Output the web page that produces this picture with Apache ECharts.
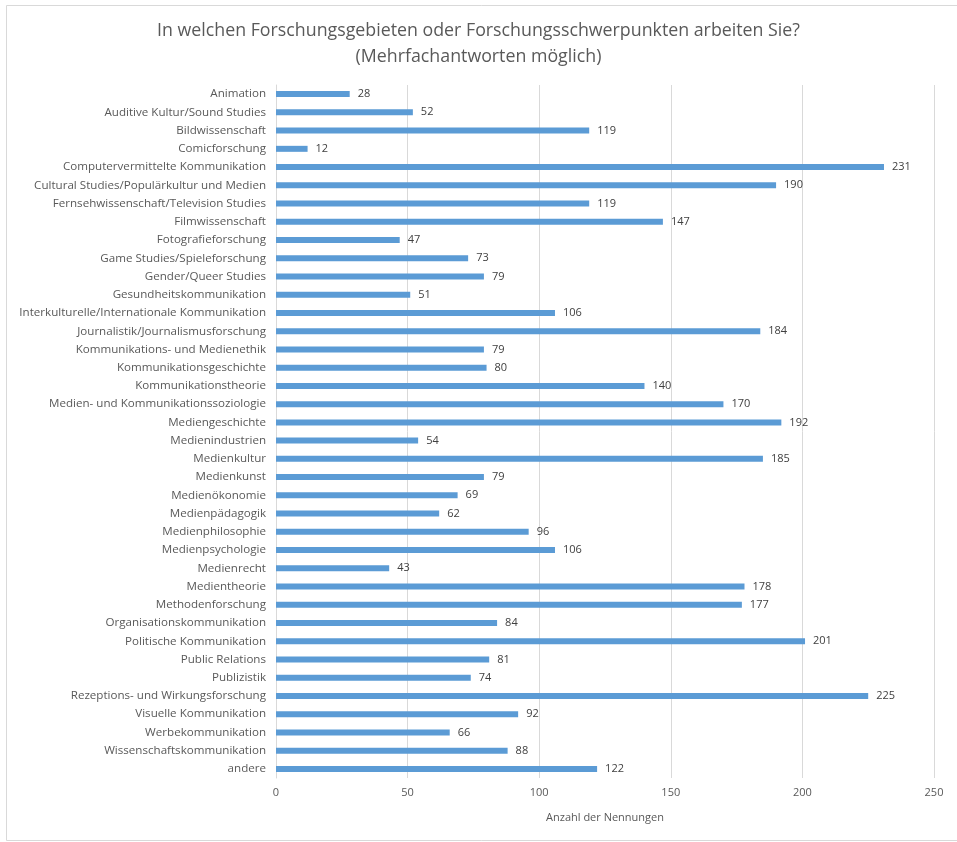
<!DOCTYPE html>
<html>
<head>
<meta charset="utf-8">
<script src="https://cdn.jsdelivr.net/npm/echarts@6/dist/echarts.min.js"></script>
<style>
  html, body { margin: 0; padding: 0; background: #fff; }
  #chart { width: 957px; height: 842px; }
</style>
</head>
<body>
<div id="chart"></div>
<script>
// Research areas, listed top to bottom
const categories = [
  'Animation',
  'Auditive Kultur/Sound Studies',
  'Bildwissenschaft',
  'Comicforschung',
  'Computervermittelte Kommunikation',
  'Cultural Studies/Populärkultur und Medien',
  'Fernsehwissenschaft/Television Studies',
  'Filmwissenschaft',
  'Fotografieforschung',
  'Game Studies/Spieleforschung',
  'Gender/Queer Studies',
  'Gesundheitskommunikation',
  'Interkulturelle/Internationale Kommunikation',
  'Journalistik/Journalismusforschung',
  'Kommunikations- und Medienethik',
  'Kommunikationsgeschichte',
  'Kommunikationstheorie',
  'Medien- und Kommunikationssoziologie',
  'Mediengeschichte',
  'Medienindustrien',
  'Medienkultur',
  'Medienkunst',
  'Medienökonomie',
  'Medienpädagogik',
  'Medienphilosophie',
  'Medienpsychologie',
  'Medienrecht',
  'Medientheorie',
  'Methodenforschung',
  'Organisationskommunikation',
  'Politische Kommunikation',
  'Public Relations',
  'Publizistik',
  'Rezeptions- und Wirkungsforschung',
  'Visuelle Kommunikation',
  'Werbekommunikation',
  'Wissenschaftskommunikation',
  'andere'
];

// Number of mentions per area
const mentions = [
  28, 52, 119, 12, 231, 190, 119, 147, 47, 73, 79, 51, 106, 184, 79, 80, 140,
  170, 192, 54, 185, 79, 69, 62, 96, 106, 43, 178, 177, 84, 201, 81, 74, 225,
  92, 66, 88, 122
];

const xTicks = { min: 0, max: 250, interval: 50 };

const titleText = 'In welchen Forschungsgebieten oder Forschungsschwerpunkten arbeiten Sie?\n(Mehrfachantworten möglich)';
const xAxisName = 'Anzahl der Nennungen';

const FONT = '"Open Sans", "Liberation Sans", Arial, sans-serif';
const TEXT = '#595959';

const chart = echarts.init(document.getElementById('chart'), null, { renderer: 'canvas' });

chart.setOption({
  backgroundColor: '#ffffff',
  animation: false,
  title: {
    text: titleText,
    left: 'center',
    top: 13,
    textStyle: {
      fontFamily: FONT,
      fontSize: 17.8,
      fontWeight: 'normal',
      color: TEXT,
      lineHeight: 26
    }
  },
  grid: {
    left: 276,
    right: 23,
    top: 85,
    bottom: 64
  },
  xAxis: {
    type: 'value',
    min: xTicks.min,
    max: xTicks.max,
    interval: xTicks.interval,
    name: xAxisName,
    nameLocation: 'middle',
    nameGap: 34,
    nameTextStyle: { fontFamily: FONT, fontSize: 11, color: TEXT },
    axisLine: { show: false },
    axisTick: { show: false },
    axisLabel: { fontFamily: FONT, fontSize: 11, color: TEXT, margin: 9 },
    splitLine: { show: true, lineStyle: { color: '#d9d9d9', width: 1 } }
  },
  yAxis: {
    type: 'category',
    data: categories,
    inverse: true,
    axisLine: { show: true, lineStyle: { color: '#d9d9d9', width: 1 } },
    axisTick: { show: false },
    axisLabel: {
      fontFamily: FONT,
      fontSize: 11.6,
      color: TEXT,
      margin: 10,
      interval: 0
    }
  },
  series: [{
    type: 'bar',
    data: mentions,
    barWidth: 6,
    itemStyle: { color: '#5b9bd5' },
    label: {
      show: true,
      position: 'right',
      distance: 8,
      fontFamily: FONT,
      fontSize: 11,
      color: '#404040'
    }
  }],
  graphic: [{
    type: 'polyline',
    silent: true,
    shape: { points: [[957, 5.5], [6.5, 5.5], [6.5, 840.5], [957, 840.5]] },
    style: { stroke: '#d9d9d9', lineWidth: 1, fill: null }
  }]
});
</script>
</body>
</html>
